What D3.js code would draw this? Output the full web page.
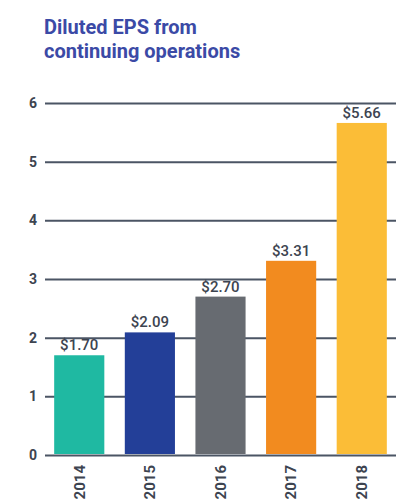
<!DOCTYPE html>
<html>
<head>
<meta charset="utf-8">
<script src="https://cdn.jsdelivr.net/npm/d3@7"></script>
<style>
  html, body { margin: 0; padding: 0; background: #fff; }
  svg { display: block; font-family: Roboto, "Noto Sans", sans-serif; }
</style>
</head>
<body>
<svg id="chart" width="398" height="500"></svg>
<script>
// Diluted EPS from continuing operations, 2014–2018
const years = ["2014", "2015", "2016", "2017", "2018"];
const eps = [1.70, 2.09, 2.70, 3.31, 5.66];
const barColors = ["#1fb9a2", "#233f98", "#676b71", "#f28b1f", "#fbbd37"];
const yTicks = [0, 1, 2, 3, 4, 5, 6];
const titleLines = ["Diluted EPS from", "continuing operations"];

const svg = d3.select("#chart");
const margin = { left: 45, right: 396, top: 103, bottom: 455 };

const x = d3.scaleBand()
  .domain(years)
  .range([margin.left, margin.right])
  .paddingInner(0.29)
  .paddingOuter(0.13);

const y = d3.scaleLinear()
  .domain([0, 6])
  .range([margin.bottom, margin.top]);

// Title
svg.append("g")
  .selectAll("text")
  .data(titleLines)
  .join("text")
  .attr("x", 44)
  .attr("y", (d, i) => 34 + i * 23.5)
  .attr("fill", "#3b4aa6")
  .attr("font-size", 20)
  .attr("font-weight", 700)
  .text(d => d);

// Horizontal gridlines with value labels
const yAxis = d3.axisLeft(y)
  .tickValues(yTicks)
  .tickSize(-(margin.right - margin.left))
  .tickPadding(8)
  .tickFormat(d3.format("d"));

const gy = svg.append("g")
  .attr("transform", `translate(${margin.left},0)`)
  .call(yAxis);
gy.select(".domain").remove();
gy.selectAll(".tick line")
  .attr("stroke", "#4b5564")
  .attr("stroke-width", 2);
gy.selectAll(".tick text")
  .attr("fill", "#3d4450")
  .attr("font-size", 14)
  .attr("font-weight", 700)
  .attr("font-family", "Roboto, sans-serif");

// Bars
svg.append("g")
  .selectAll("rect")
  .data(years)
  .join("rect")
  .attr("x", d => x(d))
  .attr("width", x.bandwidth())
  .attr("y", (d, i) => y(eps[i]))
  .attr("height", (d, i) => y(0) - y(eps[i]) - 1)
  .attr("fill", (d, i) => barColors[i]);

// Value labels above bars
svg.append("g")
  .selectAll("text")
  .data(years)
  .join("text")
  .attr("x", d => x(d) + x.bandwidth() / 2)
  .attr("y", (d, i) => y(eps[i]) - 5)
  .attr("text-anchor", "middle")
  .attr("fill", "#3d4450")
  .attr("font-size", 15)
  .attr("font-weight", 500)
  .text((d, i) => "$" + d3.format(".2f")(eps[i]));

// Year labels, rotated under each bar
const xAxis = d3.axisBottom(x).tickSize(0).tickPadding(0);
const gx = svg.append("g")
  .attr("transform", `translate(0,${margin.bottom})`)
  .call(xAxis);
gx.select(".domain").remove();
gx.selectAll(".tick text")
  .attr("transform", "rotate(-90)")
  .attr("x", -10)
  .attr("y", 0)
  .attr("dy", "0.35em")
  .attr("text-anchor", "end")
  .attr("fill", "#3d4450")
  .attr("font-size", 15)
  .attr("font-weight", 700)
  .attr("font-family", "Roboto, sans-serif");
</script>
</body>
</html>
